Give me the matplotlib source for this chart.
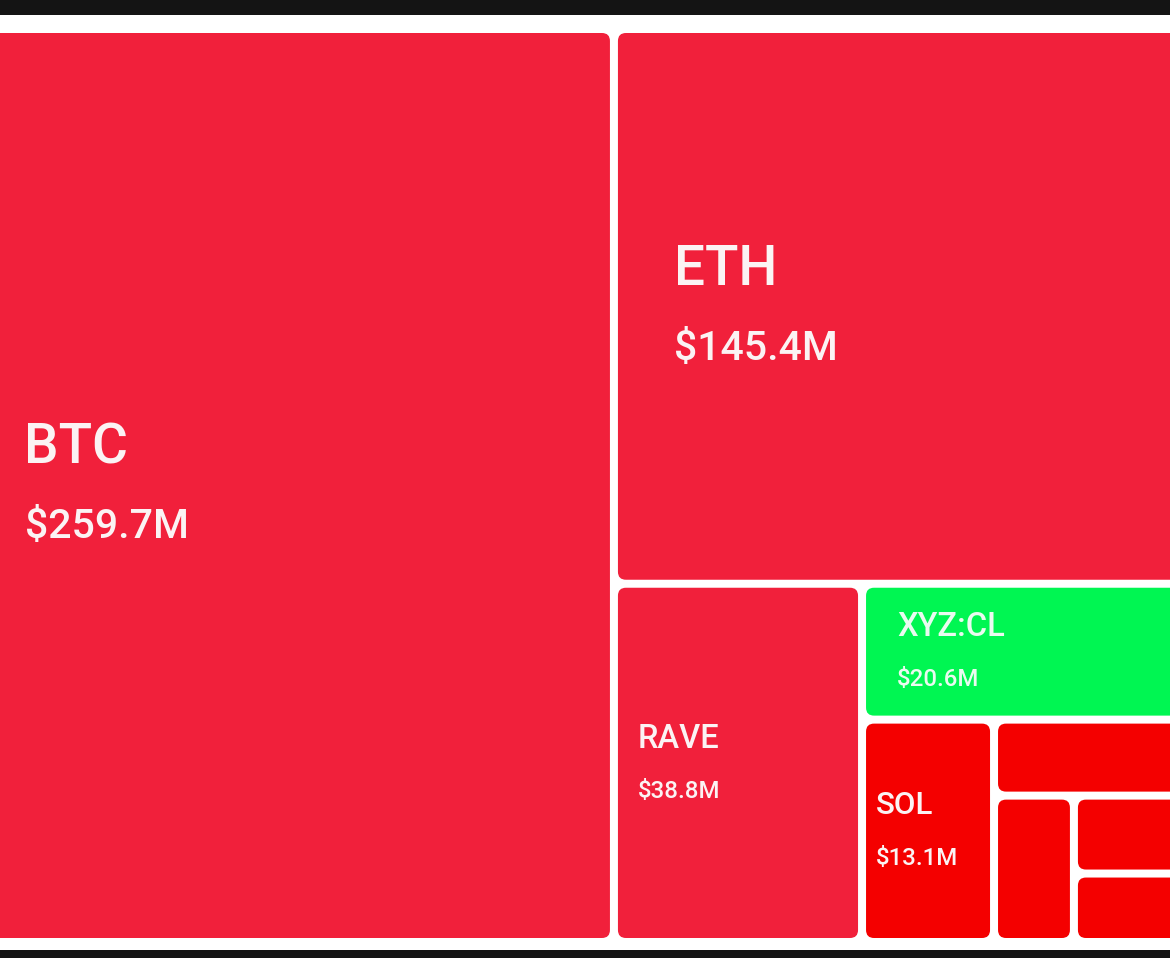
import matplotlib
matplotlib.use("Agg")
import matplotlib.pyplot as plt
from matplotlib.patches import FancyBboxPatch, Rectangle

plt.rcParams['font.family'] = ['Roboto', 'DejaVu Sans']

# Tile order follows the nested treemap: each tile takes a slice of what remains.
tickers = ["BTC", "ETH", "RAVE", "XYZ:CL", "SOL", "", "", "", ""]
value_labels = ["$259.7M", "$145.4M", "$38.8M", "$20.6M", "$13.1M", "", "", "", ""]
# Tile areas, in $M (unlabelled tiles are estimates)
tile_areas = [259.7, 145.4, 38.0, 21.2, 12.55, 7.57, 5.0, 5.1, 4.48]
tile_kinds = ["loss", "loss", "loss", "gain", "deep", "deep", "deep", "deep", "deep"]

COLORS = {"loss": "#F1203B", "gain": "#00F652", "deep": "#F40000"}
W, H = 1170, 958
PLOT_TOP, PLOT_BOTTOM, PLOT_RIGHT = 29.0, 942.0, 1227.0
GAP = 8.0

# Text anchors per tile: name (x, baseline), value (x, baseline), sizes
name_anchor = [(24, 463), (674, 285), (638, 748), (897, 636), (876, 814)]
value_anchor = [(25, 538), (674, 360), (638, 798), (897, 686), (876, 865)]
name_size = [39.5, 39.5, 23.5, 23.5, 22.5]
value_size = [29.5, 29.5, 17.3, 17.3, 17.3]


def layout(areas, x0, y0, x1, y1):
    """Slice-and-dice: alternate vertical and horizontal cuts through the rest."""
    rects = []
    vertical = True
    for i, a in enumerate(areas):
        rest = sum(areas[i:])
        if i == len(areas) - 1:
            rects.append((x0, y0, x1, y1))
        elif vertical:
            xm = x0 + (x1 - x0) * a / rest
            rects.append((x0, y0, xm, y1))
            x0 = xm
        else:
            ym = y0 + (y1 - y0) * a / rest
            rects.append((x0, y0, x1, ym))
            y0 = ym
        vertical = not vertical
    return rects


fig = plt.figure(figsize=(W / 100, H / 100), dpi=100, facecolor="white")
ax = fig.add_axes([0, 0, 1, 1])
ax.set_xlim(0, W)
ax.set_ylim(H, 0)
ax.axis("off")

ax.add_patch(Rectangle((0, 0), W, 14.5, color="#141414", lw=0, zorder=5))
ax.add_patch(Rectangle((0, 950), W, 8, color="#141414", lw=0, zorder=5))

# Width follows the tile areas at the picture's pixels-per-$M scale; the left
# of the chart runs off the edge of the picture, as in the reference.
PX2_PER_M = 2339.0
total_w = sum(tile_areas) * PX2_PER_M / (PLOT_BOTTOM - PLOT_TOP)
rects = layout(tile_areas, PLOT_RIGHT - total_w, PLOT_TOP, PLOT_RIGHT, PLOT_BOTTOM)

for (x0, y0, x1, y1), kind in zip(rects, tile_kinds):
    ax.add_patch(FancyBboxPatch(
        (x0 + GAP / 2, y0 + GAP / 2), x1 - x0 - GAP, y1 - y0 - GAP,
        boxstyle="round,pad=0,rounding_size=8", fc=COLORS[kind], ec="none", lw=0))

for i in range(len(name_anchor)):
    nx, ny = name_anchor[i]
    vx, vy = value_anchor[i]
    color = "#EAFBF0" if tile_kinds[i] == "gain" else "#FBF3F4"
    ax.text(nx, ny, tickers[i], color=color, fontsize=name_size[i],
            fontweight="medium", ha="left", va="baseline")
    ax.text(vx, vy, value_labels[i], color=color, fontsize=value_size[i],
            fontweight="medium", ha="left", va="baseline")

fig.savefig("out.png", dpi=100, facecolor="white")
